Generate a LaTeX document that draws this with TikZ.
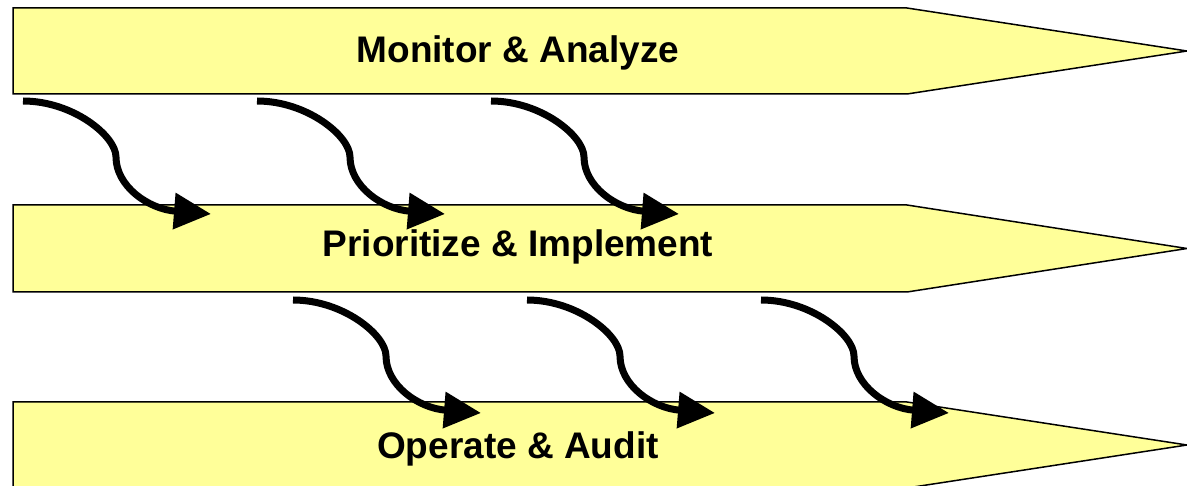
\documentclass[tikz,border=0pt]{standalone}
\usepackage{fontspec}
\setmainfont{Liberation Sans}
\usetikzlibrary{arrows.meta,calc}
\definecolor{bandyellow}{RGB}{255,255,153}
\tikzset{
  band/.style={draw=black, line width=1.5pt, fill=bandyellow, line join=miter},
  bandlabel/.style={anchor=base, font=\fontsize{37}{44}\selectfont\bfseries, inner sep=0pt},
  flow/.style={line width=7pt, -{Triangle[length=37pt,width=35pt]}},
}
\newcommand{\bandshape}[3]{% top, bottom, tip y
  \draw[band] (13,#1) -- (907,#1) -- (1187,#3) -- (907,#2) -- (13,#2) -- cycle;}
\begin{document}
\begin{tikzpicture}[x=1pt,y=-1pt]
\useasboundingbox (0,0) rectangle (1187,486);
\bandshape{8}{94}{51}
\bandshape{205}{292}{248.5}
\bandshape{402}{488}{445}
\node[bandlabel] (ma) at (518,63) {Monitor \& Analyze};
\node[bandlabel] (pi) at (518,257) {Prioritize \& Implement};
\node[bandlabel] (oa) at (518,458) {Operate \& Audit};
\foreach \i/\sx/\sy in {a/23/101, b/257/101, c/491/101, d/293/300, e/527/300, f/761/300}{
  \coordinate (s\i) at (\sx,\sy);
  \coordinate (m\i) at ($(s\i)+(93,56)$);
  \coordinate (t\i) at ($(s\i)+(188,113)$);
  \draw[flow] (s\i) .. controls +(50,0) and +(0,-21) .. (m\i)
              .. controls +(0,29) and +(-63,-5) .. (t\i);
}
\end{tikzpicture}
\end{document}
